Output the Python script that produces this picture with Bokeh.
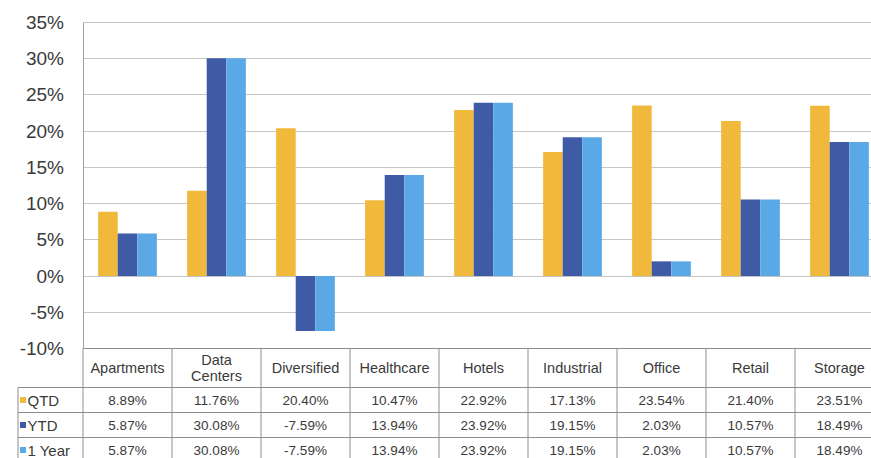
from bokeh.plotting import figure
from bokeh.models import ColumnDataSource, Range1d, LinearAxis, FixedTicker, PrintfTickFormatter, Grid
from bokeh.transform import dodge
from bokeh.core.properties import value
from bokeh.embed import file_html
from bokeh.resources import INLINE

# ---------------- data ----------------
categories = ["Apartments", "Data Centers", "Diversified", "Healthcare", "Hotels",
              "Industrial", "Office", "Retail", "Storage"]
header_labels = ["Apartments", "Data\nCenters", "Diversified", "Healthcare", "Hotels",
                 "Industrial", "Office", "Retail", "Storage"]
series_names = ["QTD", "YTD", "1 Year"]
qtd = [8.89, 11.76, 20.40, 10.47, 22.92, 17.13, 23.54, 21.40, 23.51]
ytd = [5.87, 30.08, -7.59, 13.94, 23.92, 19.15, 2.03, 10.57, 18.49]
one_year = [5.87, 30.08, -7.59, 13.94, 23.92, 19.15, 2.03, 10.57, 18.49]
y_ticks = [-10, -5, 0, 5, 10, 15, 20, 25, 30, 35]

# ---------------- styles / layout ----------------
colors = ["#F0B93C", "#3F5BA6", "#5AA9E6"]
FONT = "Liberation Sans"
TXT = "#3a3a3a"
ORIGIN = 0               # page offset of the canvas (as rendered)
W, H = 871, 458
FRAME_TOP_PAGE = 4.0
CAT_PX = 89.0            # pixels per category
AXIS_PAGE_X = 82.5
FRAME_LEFT_PAGE = 0.0
FRAME_RIGHT_PAGE = ORIGIN + W
PXU = 326.0 / 45.0       # pixels per percentage point

x_start = -(AXIS_PAGE_X - FRAME_LEFT_PAGE) / CAT_PX
x_end = (FRAME_RIGHT_PAGE - AXIS_PAGE_X) / CAT_PX
y_end = 35 + (22 - FRAME_TOP_PAGE) / PXU
y_start = y_end - (ORIGIN + H - FRAME_TOP_PAGE) / PXU


def px_x(px):
    return (px - AXIS_PAGE_X) / CAT_PX


def px_y(py):
    return y_end - (py - FRAME_TOP_PAGE) / PXU


n = len(categories)
centers = [i + 0.5 for i in range(n)]

p = figure(width=W, height=H, output_backend="svg", toolbar_location=None,
           x_range=Range1d(x_start, x_end), y_range=Range1d(y_start, y_end),
           x_axis_location=None, y_axis_location=None,
           min_border_left=int(FRAME_LEFT_PAGE - ORIGIN), min_border_right=0,
           min_border_top=int(FRAME_TOP_PAGE - ORIGIN), min_border_bottom=0)
p.outline_line_color = None
p.background_fill_color = "white"
p.border_fill_color = "white"
p.xgrid.visible = False
p.ygrid.visible = False

grid = Grid(dimension=1, ticker=FixedTicker(ticks=y_ticks), cross_bounds=(0, x_end),
            grid_line_color="#c6c6c6", grid_line_width=1)
p.add_layout(grid, "center")

yaxis = LinearAxis(ticker=FixedTicker(ticks=y_ticks), formatter=PrintfTickFormatter(format="%d%%"),
                   fixed_location=0, bounds=(-10, 35))
yaxis.axis_line_color = "#a0a0a0"
yaxis.major_tick_line_color = None
yaxis.minor_tick_line_color = None
yaxis.major_label_text_font = FONT
yaxis.major_label_text_font_size = "19px"
yaxis.major_label_text_color = TXT
yaxis.major_label_standoff = 13
p.add_layout(yaxis, "left")

# ---------------- bars ----------------
src = ColumnDataSource(dict(x=centers, qtd=qtd, ytd=ytd, one_year=one_year))
for col, off, c in zip(["qtd", "ytd", "one_year"], [-0.22, 0.0, 0.22], colors):
    p.vbar(x=dodge("x", off, range=p.x_range), top=col, bottom=0, width=0.22,
           fill_color=c, line_color=None, source=src)

# ---------------- data table ----------------
row_lines_px = [348, 387, 412, 437]
row_lines = [px_y(v) for v in row_lines_px]
border = "#8e8e8e"
legend_left = px_x(17.5)
# horizontal lines
p.segment(x0=[0] + [legend_left] * 3, x1=[x_end + 1] * 4, y0=row_lines, y1=row_lines,
          line_color=border, line_width=1)
# vertical lines
vx = list(range(n + 1))
p.segment(x0=vx, x1=vx, y0=[row_lines[0]] * len(vx), y1=[y_start - 1] * len(vx),
          line_color=border, line_width=1)
p.segment(x0=[legend_left], x1=[legend_left], y0=[row_lines[1]], y1=[y_start - 1],
          line_color=border, line_width=1)

# header
header_y = px_y((row_lines_px[0] + row_lines_px[1]) / 2)
p.text(x=centers, y=[header_y] * n, text=header_labels, text_align="center",
       text_baseline="middle", text_font=value(FONT), text_font_size="14.5px",
       text_color=TXT, text_line_height=1.0)

row_centers_px = [(row_lines_px[1] + row_lines_px[2]) / 2,
                  (row_lines_px[2] + row_lines_px[3]) / 2,
                  row_lines_px[3] + 12.5]
for vals, name, c, rpx in zip([qtd, ytd, one_year], series_names, colors, row_centers_px):
    ry = px_y(rpx)
    p.text(x=centers, y=[ry] * n, text=[f"{v:.2f}%" for v in vals], text_align="center",
           text_baseline="middle", text_font=value(FONT), text_font_size="13.5px",
           text_color=TXT)
    p.scatter(x=[px_x(22.5)], y=[ry], marker="square", size=6, fill_color=c, line_color=None)
    p.text(x=[px_x(27)], y=[ry], text=[name], text_align="left", text_baseline="middle",
           text_font=value(FONT), text_font_size="15px", text_color=TXT)

open("out.html", "w").write(file_html(p, INLINE))
